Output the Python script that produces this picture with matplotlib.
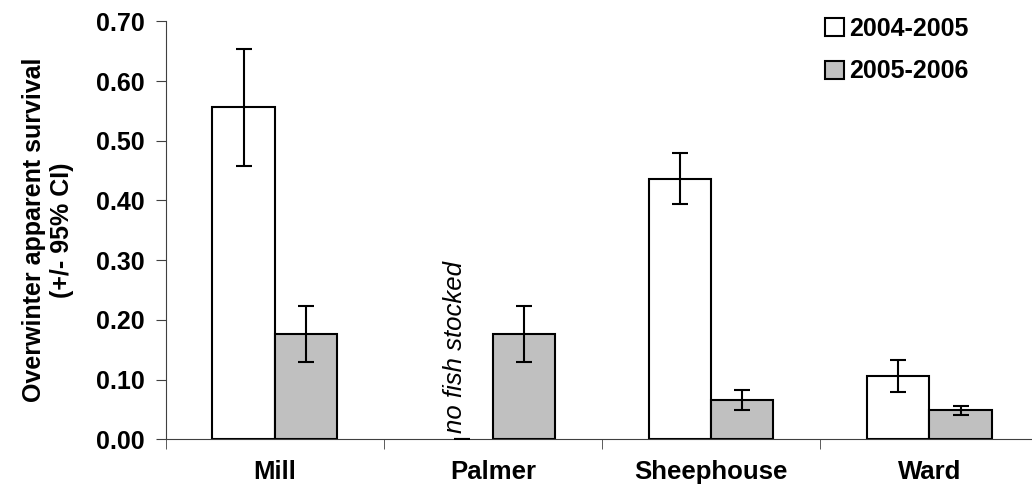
import numpy as np
import matplotlib
matplotlib.use("Agg")
import matplotlib.pyplot as plt

plt.rcParams['font.family'] = ['Liberation Sans', 'DejaVu Sans']

# data
sites = ["Mill", "Palmer", "Sheephouse", "Ward"]
surv_0405 = [0.557, 0.0, 0.436, 0.1065]
lo_0405 = [0.457, 0.0, 0.394, 0.079]
hi_0405 = [0.654, 0.0, 0.480, 0.133]
surv_0506 = [0.176, 0.176, 0.066, 0.049]
lo_0506 = [0.129, 0.129, 0.049, 0.040]
hi_0506 = [0.223, 0.223, 0.083, 0.056]
yticks = [0.0, 0.1, 0.2, 0.3, 0.4, 0.5, 0.6, 0.7]

fig = plt.figure(figsize=(10.32, 4.9), dpi=100)
ax = fig.add_axes([0.1604, 0.1035, 0.846, 0.853])

x = np.arange(len(sites))
w = 0.285

err1 = [np.array(surv_0405) - np.array(lo_0405), np.array(hi_0405) - np.array(surv_0405)]
err2 = [np.array(surv_0506) - np.array(lo_0506), np.array(hi_0506) - np.array(surv_0506)]

# no outline for the empty (not stocked) bar
lw1 = [1.5 if v > 0 else 0 for v in surv_0405]

ax.bar(x - w/2, surv_0405, w, color='white', edgecolor='black', linewidth=lw1,
       label='2004-2005', zorder=2)
ax.bar(x + w/2, surv_0506, w, color='#c0c0c0', edgecolor='black', linewidth=1.5,
       label='2005-2006', zorder=2)
ax.errorbar(x - w/2, surv_0405, yerr=err1, fmt='none', ecolor='black',
            elinewidth=1.5, capsize=5.5, capthick=1.5, zorder=3)
ax.errorbar(x + w/2, surv_0506, yerr=err2, fmt='none', ecolor='black',
            elinewidth=1.5, capsize=5.5, capthick=1.5, zorder=3)

ax.text(1 - w/2 - 0.03, 0.01, "no fish stocked", rotation=90, style='italic',
        fontsize=18.5, ha='center', va='bottom')

ax.set_xlim(-0.5, 3.5)
ax.set_ylim(0, 0.7)
ax.set_yticks(yticks)
ax.set_yticklabels(["%.2f" % v for v in yticks], fontsize=18, fontweight='bold')

ax.set_xticks(x)
ax.set_xticklabels(sites, fontsize=18.5, fontweight='bold')
ax.tick_params(axis='x', which='major', length=0, pad=15)
ax.set_xticks(np.arange(-0.5, 3.6, 1), minor=True)
ax.tick_params(axis='x', which='minor', length=7, direction='out', color='#404040')
ax.tick_params(axis='y', length=7, direction='out', color='#404040', pad=8)

ax.spines['top'].set_visible(False)
ax.spines['right'].set_visible(False)
ax.spines['left'].set_color('#404040')
ax.spines['bottom'].set_color('#404040')

ax.set_ylabel("Overwinter apparent survival\n(+/- 95% CI)", fontsize=18,
              fontweight='bold', labelpad=16)

leg = ax.legend(loc='upper right', bbox_to_anchor=(0.945, 1.065), frameon=False,
                prop={'size': 18, 'weight': 'bold'}, handlelength=0.75,
                handleheight=0.75, handletextpad=0.2, labelspacing=0.75)

fig.savefig("out.png", dpi=100)
